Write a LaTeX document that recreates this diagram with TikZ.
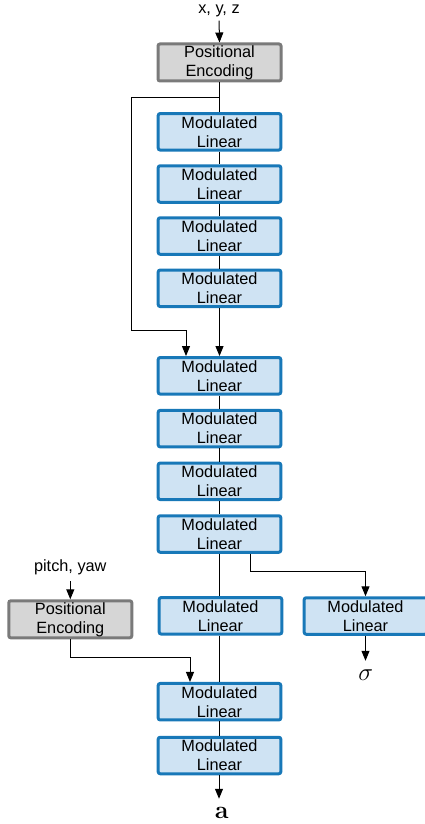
\documentclass[tikz,border=0pt]{standalone}
\usepackage[no-math]{fontspec}
\setmainfont{Liberation Sans}
\usetikzlibrary{arrows.meta}
\definecolor{mlborder}{HTML}{1878B8}
\definecolor{mlfill}{HTML}{CFE3F3}
\definecolor{peborder}{HTML}{7A7A7A}
\definecolor{pefill}{HTML}{D6D6D6}
\begin{document}
\begin{tikzpicture}[x=1pt,y=-1pt,
  boxbase/.style={rectangle, rounded corners=2pt, line width=3pt,
    minimum width=122.6pt, minimum height=36.5pt, inner sep=0pt, align=center,
    font=\fontsize{16.3}{19}\selectfont},
  ml/.style={boxbase, draw=mlborder, fill=mlfill},
  pe/.style={boxbase, draw=peborder, fill=pefill, minimum width=123pt, minimum height=37pt},
  lbl/.style={font=\fontsize{16.3}{19}\selectfont, inner sep=0pt, anchor=base},
  mathlbl/.style={font=\fontsize{30}{32}\selectfont, inner sep=0pt, anchor=base},
  conn/.style={line width=1pt, black},
  arr/.style={conn, -{Triangle[length=10pt,width=8pt]}}
]
\useasboundingbox (0,0) rectangle (425,824);

\node[lbl] (xyz) at (219,14) {x, y, z};
\node[pe] (pe1) at (219.5,62.5) {Positional\\Encoding};
\node[ml] (ml1) at (219.5,131.8) {Modulated\\Linear};
\node[ml] (ml2) at (219.5,184) {Modulated\\Linear};
\node[ml] (ml3) at (219.5,236) {Modulated\\Linear};
\node[ml] (ml4) at (219.5,288.3) {Modulated\\Linear};
\node[ml] (ml5) at (219.5,375.8) {Modulated\\Linear};
\node[ml] (ml6) at (219.5,428.6) {Modulated\\Linear};
\node[ml] (ml7) at (219.5,481.3) {Modulated\\Linear};
\node[ml] (ml8) at (219.5,534) {Modulated\\Linear};
\node[ml] (ml9) at (220.5,615.8) {Modulated\\Linear};
\node[ml] (mls) at (365.5,616) {Modulated\\Linear};
\node[lbl] (py) at (70.3,571.7) {pitch, yaw};
\node[pe] (pe2) at (70.3,619.3) {Positional\\Encoding};
\node[ml] (ml10) at (219.5,701.7) {Modulated\\Linear};
\node[ml] (ml11) at (219.5,755.5) {Modulated\\Linear};
\node[mathlbl] (sig) at (365.8,680.7) {$\sigma$};
\node[mathlbl] (aout) at (221.7,818) {$\mathbf{a}$};

\coordinate (split) at (219,97.3);
\coordinate (skipA) at (131.7,97.3);
\coordinate (skipB) at (131.7,330);
\coordinate (skipC) at (186,330);
\coordinate (sigA) at (250.7,571.7);
\coordinate (sigB) at (365.5,571.7);
\coordinate (peA) at (70.3,657.3);
\coordinate (peB) at (190,657.3);

% top input
\draw[arr, shorten <=3pt] (xyz.south) -- (pe1.north);
% main trunk
\draw[conn] (pe1.south) -- (ml1.north);
\draw[conn] (ml1.south) -- (ml2.north);
\draw[conn] (ml2.south) -- (ml3.north);
\draw[conn] (ml3.south) -- (ml4.north);
\draw[arr] (ml4.south) -- (ml5.north);
% skip connection
\draw[arr] (split) -- (skipA) -- (skipB) -- (skipC) -- (skipC |- ml5.north);
\draw[conn] (ml5.south) -- (ml6.north);
\draw[conn] (ml6.south) -- (ml7.north);
\draw[conn] (ml7.south) -- (ml8.north);
\draw[conn] (ml8.south -| split) -- (split |- ml9.north);
\draw[conn] (ml9.south -| split) -- (split |- ml10.north);
\draw[conn] (ml10.south) -- (ml11.north);
\draw[arr] (ml11.south -| split) -- ([yshift=8pt]aout.north -| split);
% sigma branch
\draw[arr] (sigA |- ml8.south) -- (sigA) -- (sigB) -- (mls.north);
\draw[arr] (mls.south) -- ([yshift=9pt]sig.north -| mls.south);
% view direction branch
\draw[arr, shorten <=6pt] (py.south) -- (pe2.north);
\draw[arr] (pe2.south) -- (peA) -- (peB) -- (peB |- ml10.north);
\end{tikzpicture}
\end{document}
